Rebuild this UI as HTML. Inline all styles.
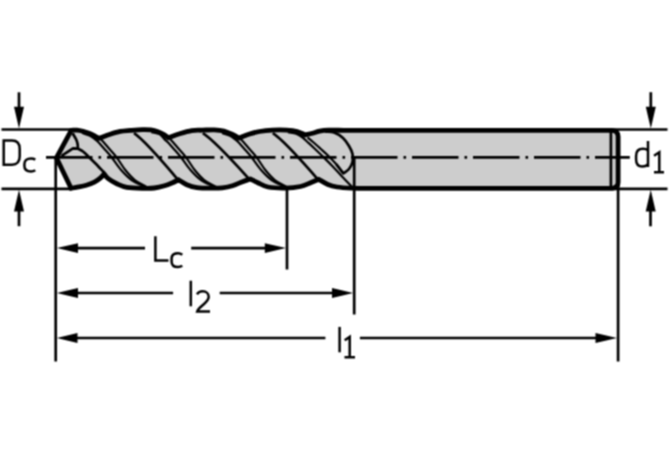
<!DOCTYPE html>
<html><head><meta charset="utf-8">
<style>
html,body{margin:0;padding:0;background:#fff;}
svg{display:block;}
</style></head>
<body>
<svg width="670" height="460" viewBox="0 0 670 460">
<defs><filter id="bl" filterUnits="userSpaceOnUse" x="0" y="0" width="670" height="460" color-interpolation-filters="sRGB"><feConvolveMatrix order="3" kernelMatrix="1 2 1 2 4 2 1 2 1" divisor="16" edgeMode="duplicate"/></filter></defs>
<g filter="url(#bl)">
<rect width="670" height="460" fill="#fff"/>
<g stroke="#000" fill="none" stroke-width="2.7">
  <line x1="1.5" y1="129.5" x2="72" y2="129.5"/>
  <line x1="1.5" y1="188.85" x2="72" y2="188.85"/>
  <line x1="612" y1="129.5" x2="667.5" y2="129.5"/>
  <line x1="612" y1="188.8" x2="667.5" y2="188.8"/>
  <line x1="55.7" y1="157" x2="55.7" y2="361.5"/>
  <line x1="287" y1="186" x2="287" y2="269.5"/>
  <line x1="618.1" y1="186" x2="618.1" y2="361.5"/>
  <line x1="19" y1="92.3" x2="19" y2="110"/>
  <line x1="19" y1="208" x2="19" y2="226.2"/>
  <line x1="650.8" y1="92.2" x2="650.8" y2="110"/>
  <line x1="650.5" y1="208" x2="650.5" y2="226.3"/>
  <line x1="70" y1="248.1" x2="145" y2="248.1"/>
  <line x1="191.2" y1="248.1" x2="272" y2="248.1"/>
  <line x1="70" y1="293" x2="173.1" y2="293"/>
  <line x1="219.7" y1="293" x2="340" y2="293"/>
  <line x1="70" y1="338" x2="325.4" y2="338"/>
  <line x1="359.9" y1="338" x2="605" y2="338"/>
</g>
<g fill="#000">
  <path d="M19 128.6 L14 106.8 L24 106.8 Z"/>
  <path d="M19 189.7 L14 211.6 L24 211.6 Z"/>
  <path d="M650.8 128.6 L645.8 106.8 L655.8 106.8 Z"/>
  <path d="M650.7 189.7 L645.7 211.6 L655.7 211.6 Z"/>
  <path d="M56.8 248.1 L78 243.2 L78 253 Z"/>
  <path d="M286 248.1 L264.8 243.2 L264.8 253 Z"/>
  <path d="M56.8 293 L78 288.1 L78 297.9 Z"/>
  <path d="M353.2 293 L332 288.1 L332 297.9 Z"/>
  <path d="M56.8 338 L77.5 333.1 L77.5 342.9 Z"/>
  <path d="M617 338 L595.5 333.1 L595.5 342.9 Z"/>
</g>
<path fill="#cdcdcd" stroke="#000" stroke-width="4.8" stroke-linejoin="miter" d="M71.30 130.30 C73.20 130.23 75.05 129.93 77.00 130.10 C78.95 130.27 81.00 130.77 83.00 131.30 C85.00 131.83 87.00 132.50 89.00 133.30 C91.00 134.10 93.33 135.27 95.00 136.10 C96.67 136.93 97.67 137.57 99.00 138.30 C102.73 136.93 106.65 135.35 110.20 134.20 C113.75 133.05 116.92 132.03 120.30 131.40 C123.68 130.77 126.78 130.70 130.50 130.40 C134.22 130.10 139.22 129.68 142.60 129.60 C145.98 129.52 148.25 129.55 150.80 129.90 C153.35 130.25 155.70 130.90 157.90 131.70 C160.10 132.50 162.25 133.70 164.00 134.70 C165.75 135.70 166.93 136.70 168.40 137.70 C171.87 136.47 174.92 135.18 178.80 134.00 C182.68 132.82 187.77 131.23 191.70 130.60 C195.63 129.97 198.65 130.33 202.40 130.20 C206.15 130.07 210.62 129.67 214.20 129.80 C217.78 129.93 220.85 130.22 223.90 131.00 C226.95 131.78 229.98 133.33 232.50 134.50 C235.02 135.67 236.83 136.83 239.00 138.00 C242.27 136.73 245.38 135.28 248.80 134.20 C252.22 133.12 255.57 132.18 259.50 131.50 C263.43 130.82 267.92 130.33 272.40 130.10 C276.88 129.87 282.28 129.87 286.40 130.10 C290.52 130.33 293.95 130.68 297.10 131.50 C300.25 132.32 302.57 133.83 305.30 135.00 C307.67 134.40 310.03 133.83 312.40 133.20 C314.77 132.57 316.82 131.70 319.50 131.20 C322.18 130.70 324.47 130.35 328.50 130.20 C332.53 130.05 338.63 130.27 343.70 130.30 L612 130.3 Q618.1 130.8 618.1 136.5 L618.1 182.3 Q618.1 188 612 188.3 L365 188.3 C360.53 188.27 356.27 188.42 351.60 188.20 C346.93 187.98 340.95 187.62 337.00 187.00 C333.05 186.38 330.95 185.78 327.90 184.50 C324.85 183.22 321.77 181.03 318.70 179.30 C316.00 180.43 313.63 181.50 310.60 182.70 C307.57 183.90 304.73 185.60 300.50 186.50 C296.27 187.40 290.62 188.02 285.20 188.10 C279.78 188.18 272.57 187.90 268.00 187.00 C263.43 186.10 260.77 184.03 257.80 182.70 C254.83 181.37 252.73 180.23 250.20 179.00 C247.67 179.90 245.55 180.58 242.60 181.70 C239.65 182.82 235.88 184.68 232.50 185.70 C229.12 186.72 225.72 187.38 222.30 187.80 C218.88 188.22 216.22 188.23 212.00 188.20 C207.78 188.17 201.20 188.18 197.00 187.60 C192.80 187.02 189.88 186.00 186.80 184.70 C183.72 183.40 181.27 181.43 178.50 179.80 C176.53 180.77 174.93 181.70 172.60 182.70 C170.27 183.70 167.55 184.92 164.50 185.80 C161.45 186.68 157.72 187.58 154.30 188.00 C150.88 188.42 148.57 188.42 144.00 188.30 C139.43 188.18 131.43 188.07 126.90 187.30 C122.37 186.53 119.85 185.10 116.80 183.70 C113.75 182.30 110.72 180.52 108.60 178.90 C106.48 177.28 105.60 175.63 104.10 174.00 C102.90 175.30 102.12 176.53 100.50 177.90 C98.88 179.27 96.77 180.97 94.40 182.20 C92.03 183.43 89.33 184.45 86.30 185.30 C83.27 186.15 78.73 186.80 76.20 187.30 C73.67 187.80 72.80 187.97 71.10 188.30 L56.40 157.80 Z"/>
<path d="M46 157.3 H629.8" stroke="#000" stroke-width="2.7" fill="none" stroke-dasharray="46.5 6 2.6 5.9"/>
<g stroke="#000" fill="none" stroke-width="2.7" stroke-linejoin="round">
  <path d="M72.60 133.30 C73.80 135.37 75.37 137.72 76.20 139.50 C77.03 141.28 77.32 142.53 77.60 144.00 C77.88 145.47 77.80 146.87 77.90 148.30"/>
  <path d="M61.50 155.80 L73 148.3 L77.8 148.6 C79.53 149.57 81.13 150.08 83.00 151.50 C84.87 152.92 87.00 155.18 89.00 157.10 C91.00 159.02 92.48 160.43 95.00 163.00 C97.52 165.57 101.07 169.33 104.10 172.50"/>
  <path d="M134.00 133.2 C142.00 138.5 160.00 158.5 177.00 178.6"/>
  <path d="M202.80 133.2 C211.34 138.5 230.55 158.5 248.70 178.6"/>
  <path d="M272.80 133.2 C281.06 138.5 299.65 158.5 317.20 178.6"/>
  <path d="M325.00 131.30 C328.00 131.73 331.00 131.48 334.00 132.60 C337.00 133.72 340.50 135.77 343.00 138.00 C345.50 140.23 347.42 143.33 349.00 146.00 C350.58 148.67 351.92 151.33 352.50 154.00 C353.08 156.67 353.08 159.50 352.50 162.00 C351.92 164.50 350.53 167.10 349.00 169.00 C347.47 170.90 345.20 171.93 343.30 173.40 L336.3 164.3"/>
  <path d="M610.9 131.5 L610.9 186"/>
</g>
<line x1="354.2" y1="157" x2="354.2" y2="314.5" stroke="#000" stroke-width="2.7"/>
<g stroke="#000" fill="none" stroke-width="2.2">
  <path d="M82.00 133.00 C84.67 133.90 87.75 134.60 90.00 135.70 C92.25 136.80 93.97 138.38 95.50 139.60 C97.03 140.82 97.82 141.55 99.20 143.00 C100.58 144.45 101.73 145.92 103.80 148.30 C105.87 150.68 108.72 153.68 111.60 157.30 C114.48 160.92 117.77 166.22 121.10 170.00 C124.43 173.78 127.57 177.17 131.60 180.00 C135.63 182.83 140.73 184.67 145.30 187.00"/>
  <path d="M100.80 139.30 C102.03 140.60 103.17 141.70 104.50 143.20 C105.83 144.70 106.78 145.95 108.80 148.30 C110.82 150.65 113.85 153.68 116.60 157.30 C119.35 160.92 122.27 166.22 125.30 170.00 C128.33 173.78 131.25 177.17 134.80 180.00 C138.35 182.83 142.67 184.67 146.60 187.00"/>
  <path d="M151.40 132.10 C154.07 132.77 157.15 132.85 159.40 134.10 C161.65 135.35 163.37 138.12 164.90 139.60 C166.43 141.08 167.22 141.55 168.60 143.00 C169.98 144.45 171.13 145.92 173.20 148.30 C175.27 150.68 178.12 153.68 181.00 157.30 C183.88 160.92 187.17 166.22 190.50 170.00 C193.83 173.78 196.97 177.17 201.00 180.00 C205.03 182.83 210.13 184.67 214.70 187.00"/>
  <path d="M170.20 139.30 C171.43 140.60 172.57 141.70 173.90 143.20 C175.23 144.70 176.18 145.95 178.20 148.30 C180.22 150.65 183.25 153.68 186.00 157.30 C188.75 160.92 191.67 166.22 194.70 170.00 C197.73 173.78 200.65 177.17 204.20 180.00 C207.75 182.83 212.07 184.67 216.00 187.00"/>
  <path d="M222.00 133.00 C224.67 133.93 227.75 134.70 230.00 135.80 C232.25 136.90 233.97 138.40 235.50 139.60 C237.03 140.80 237.82 141.55 239.20 143.00 C240.58 144.45 241.73 145.92 243.80 148.30 C245.87 150.68 248.72 153.68 251.60 157.30 C254.48 160.92 257.77 166.22 261.10 170.00 C264.43 173.78 267.57 177.17 271.60 180.00 C275.63 182.83 280.73 184.67 285.30 187.00"/>
  <path d="M240.80 139.30 C242.03 140.60 243.17 141.70 244.50 143.20 C245.83 144.70 246.78 145.95 248.80 148.30 C250.82 150.65 253.85 153.68 256.60 157.30 C259.35 160.92 262.27 166.22 265.30 170.00 C268.33 173.78 271.25 177.17 274.80 180.00 C278.35 182.83 282.67 184.67 286.60 187.00"/>
  <path d="M288.00 132.20 C290.67 132.67 293.67 132.80 296.00 133.60 C298.33 134.40 300.08 135.60 302.00 137.00 C303.92 138.40 305.42 140.08 307.50 142.00 C309.58 143.92 312.03 146.17 314.50 148.50 C316.97 150.83 319.33 153.08 322.30 156.00 C325.27 158.92 329.10 162.67 332.30 166.00 C335.50 169.33 338.13 172.45 341.50 176.00 C344.87 179.55 348.83 183.53 352.50 187.30"/>
  <path d="M307.50 137.50 C309.33 139.00 310.87 140.17 313.00 142.00 C315.13 143.83 317.72 146.17 320.30 148.50 C322.88 150.83 325.83 153.37 328.50 156.00 C331.17 158.63 333.83 161.40 336.30 164.30 C338.77 167.20 340.97 170.37 343.30 173.40"/>
</g>
<g stroke="#000" fill="none" stroke-width="2.5">
  <path d="M3.7 140.6 V164.7 H12 C17.3 164.7 19.7 161.6 19.7 156.3 V149 C19.7 143.7 17.3 140.6 12 140.6 Z"/>
  <path d="M35.3 159.6 C34 158.8 32.8 158.5 31 158.5 C26.8 158.5 24.4 160.8 24.4 164 V166 C24.4 169.3 26.8 171.4 31 171.4 C32.8 171.4 34 171.1 35.3 170.3"/>
  <path d="M648 141 V167"/>
  <path d="M648 150.3 C646.8 149.2 645 148.8 643 148.8 C638.5 148.8 636.1 151.5 636.1 156 V159.5 C636.1 164.2 638.3 166.5 642.3 166.5 C644.8 166.5 646.6 165.8 648 164.3"/>
  <path d="M654 155.8 L659.3 152.3 V172.3 M654 172.3 H664"/>
  <path d="M155.4 236.2 V260.4 H168.5"/>
  <path d="M182.3 254.8 C181 253.8 179.8 253.2 178 253.2 C173.9 253.2 171.6 255.5 171.6 258.8 V261.4 C171.6 264.7 173.9 267 178 267 C179.8 267 181 266.6 182.3 265.8"/>
  <path d="M190.8 280.7 V306.3"/>
  <path d="M197 294.3 C198.3 292.2 200.2 291.3 202.6 291.3 C206.3 291.3 208.7 293.5 208.7 296.8 C208.7 299.5 207 301.5 203.5 304.5 C200.5 307 198 309 197.2 311.6 H210"/>
  <path d="M339.6 326.9 V352.3"/>
  <path d="M344.7 340.2 L349.7 336.9 V357.3 M344.5 357.3 H355"/>
</g>
</g>
</svg>
</body></html>
